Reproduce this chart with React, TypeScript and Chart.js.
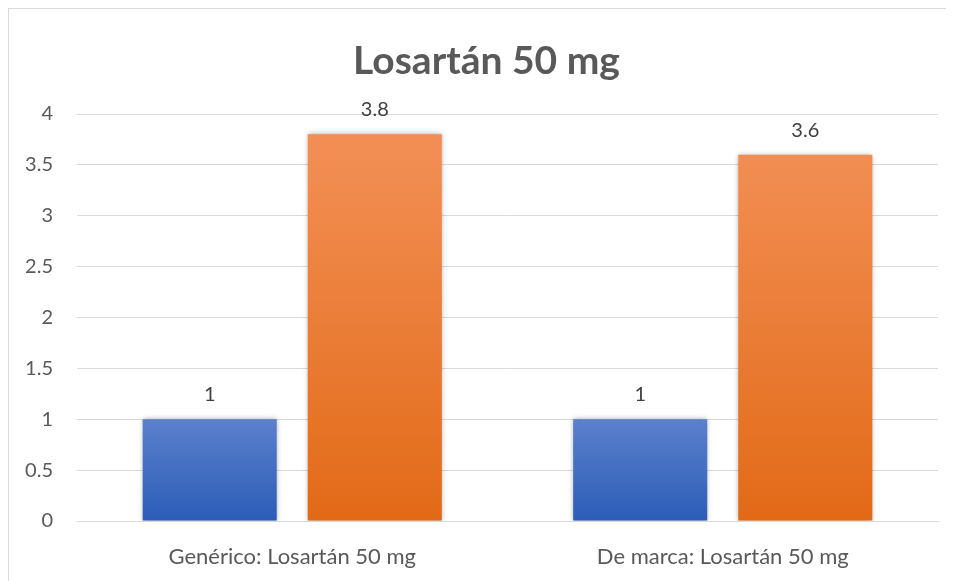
import React, { useEffect, useRef } from "react";
import { Chart, registerables } from "chart.js";

Chart.register(...registerables);

const categories = ["Genérico: Losartán 50 mg", "De marca: Losartán 50 mg"];
const seriesA = [1, 1];
const seriesB = [3.8, 3.6];
const yTicks = [0, 0.5, 1, 1.5, 2, 2.5, 3, 3.5, 4];
const titleText = "Losartán 50 mg";

const FONT = "Lato, 'Open Sans', sans-serif";

const gradients: Record<number, [string, string]> = {
  0: ["#5b80cd", "#2c5db7"],
  1: ["#f28e53", "#e26a17"],
};

const titlePlugin = {
  id: "customTitle",
  afterDraw(chart: any) {
    const ctx = chart.ctx;
    ctx.save();
    ctx.fillStyle = "#595959";
    ctx.font = `bold 39px ${FONT}`;
    ctx.textAlign = "center";
    ctx.textBaseline = "middle";
    ctx.fillText(titleText, chart.width / 2 + 5, 52.5);
    ctx.restore();
  },
};

const gradientPlugin = {
  id: "barGradient",
  beforeDatasetsDraw(chart: any) {
    const ctx = chart.ctx;
    chart.data.datasets.forEach((_: any, di: number) => {
      const meta = chart.getDatasetMeta(di);
      meta.data.forEach((el: any) => {
        const g = ctx.createLinearGradient(0, el.y, 0, el.base);
        g.addColorStop(0, gradients[di][0]);
        g.addColorStop(1, gradients[di][1]);
        el.options.backgroundColor = g;
      });
    });
    ctx.save();
    ctx.shadowColor = "rgba(0,0,0,0.35)";
    ctx.shadowBlur = 5;
    ctx.shadowOffsetX = 0;
    ctx.shadowOffsetY = 0;
  },
  afterDatasetsDraw(chart: any) {
    const ctx = chart.ctx;
    ctx.restore();
    ctx.save();
    ctx.fillStyle = "#404040";
    ctx.font = `20px ${FONT}`;
    ctx.textAlign = "center";
    ctx.textBaseline = "alphabetic";
    chart.data.datasets.forEach((ds: any, di: number) => {
      const meta = chart.getDatasetMeta(di);
      meta.data.forEach((el: any, i: number) => {
        ctx.fillText(String(ds.data[i]), el.x, el.y - 18);
      });
    });
    ctx.restore();
  },
};

export default function App() {
  const ref = useRef<HTMLCanvasElement | null>(null);
  useEffect(() => {
    if (!ref.current) return;
    const chart = new Chart(ref.current, {
      type: "bar",
      data: {
        labels: categories,
        datasets: [
          { label: "Serie 1", data: seriesA, backgroundColor: "#4472c4", categoryPercentage: 0.767, barPercentage: 0.812 },
          { label: "Serie 2", data: seriesB, backgroundColor: "#ed7d31", categoryPercentage: 0.767, barPercentage: 0.812 },
        ],
      },
      options: {
        responsive: false,
        animation: false,
        layout: { padding: { top: 105, left: 0, right: 16, bottom: 0 } },
        plugins: {
          legend: { display: false },
          tooltip: { enabled: false },
          title: { display: false },
        },
        scales: {
          x: {
            grid: { display: false, drawTicks: false },
            border: { display: true, color: "#d9d9d9" },
            ticks: { color: "#595959", font: { family: FONT, size: 22 }, padding: 23 },
            afterFit: (s: any) => { s.height = 60; },
          },
          y: {
            min: 0,
            max: 4,
            afterBuildTicks: (s: any) => { s.ticks = yTicks.map((v) => ({ value: v })); },
            grid: { color: "#d9d9d9", drawTicks: false },
            border: { display: false },
            ticks: {
              color: "#595959",
              font: { family: FONT, size: 20 },
              padding: 24,
              callback: (v: any) => String(Number(v)),
            },
            afterFit: (s: any) => { s.width = 68; },
          },
        },
      },
      plugins: [gradientPlugin, titlePlugin],
    });
    return () => chart.destroy();
  }, []);
  return (
    <div
      style={{
        width: 946,
        height: 573,
        boxSizing: "border-box",
        borderTop: "1px solid #d9d9d9",
        borderLeft: "1px solid #d9d9d9",
        background: "#fff",
        overflow: "hidden",
      }}
    >
      <canvas ref={ref} width={945} height={572} style={{ display: "block" }} />
    </div>
  );
}
